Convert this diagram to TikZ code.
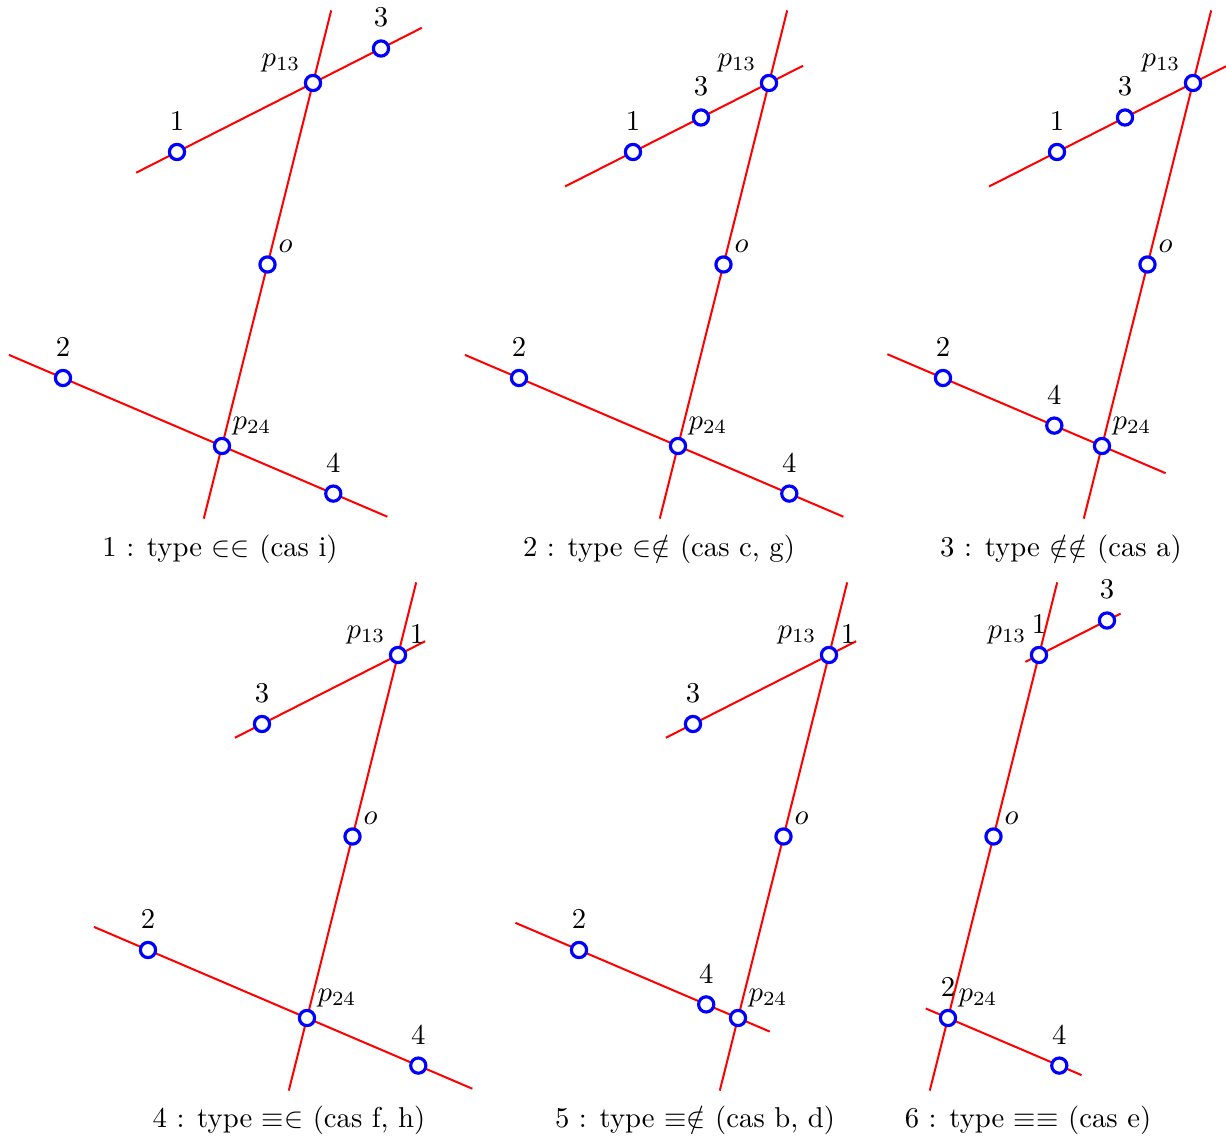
\documentclass[tikz,border=0pt]{standalone}
\usetikzlibrary{calc}
\begin{document}
\begin{tikzpicture}[x=0.3484pt,y=-0.3484pt,
  ln/.style={red, line width=0.7pt},
  pt/.style={circle, draw=blue, fill=white, line width=1.1pt, minimum size=5.3pt, inner sep=0pt},
  lb/.style={inner sep=0pt},
  captxt/.style={inner sep=0pt, anchor=base}]
\useasboundingbox (0,0) rectangle (1226,1139);
\coordinate (u) at (136,-69);
\coordinate (v) at (159,68);
\coordinate (d) at (45.5,-181.5);

% ---------------- Panel 1
\coordinate (oA) at (267.5,264.5);
\coordinate (pA) at ($(oA)+(d)$);
\coordinate (qA) at ($(oA)-(d)$);
\coordinate (tA) at ($(oA)+1.4*(d)$);
\coordinate (bA) at ($(oA)-1.4*(d)$);
\coordinate (uA1) at ($(pA)-1.3*(u)$);
\coordinate (uA2) at ($(pA)+0.8*(u)$);
\coordinate (vA1) at ($(qA)-1.34*(v)$);
\coordinate (vA2) at ($(qA)+1.04*(v)$);
\draw[ln] (tA) -- (bA);
\draw[ln] (uA1) -- (uA2);
\draw[ln] (vA1) -- (vA2);
\node[pt] (nOA) at (oA) {};
\node[pt] (nPA) at (pA) {};
\node[pt] (nQA) at (qA) {};
\node[pt] (n1A) at ($(pA)-(u)$) {};
\node[pt] (n3A) at ($(pA)+0.5*(u)$) {};
\node[pt] (n2A) at ($(qA)-(v)$) {};
\node[pt] (n4A) at ($(qA)+0.7*(v)$) {};
\node[lb] (lOA) at ($(nOA)+(18,-18)$) {$o$};
\node[lb] (lPA) at ($(nPA)+(-32,-20)$) {$p_{13}$};
\node[lb] (lQA) at ($(nQA)+(30,-20)$) {$p_{24}$};
\node[lb] (l1A) at ($(n1A)+(0,-31)$) {1};
\node[lb] (l2A) at ($(n2A)+(0,-31)$) {2};
\node[lb] (l3A) at ($(n3A)+(0,-31)$) {3};
\node[lb] (l4A) at ($(n4A)+(0,-31)$) {4};
\node[captxt] (cA) at (220,556) {1 : type $\in\in$ (cas i)};

% ---------------- Panel 2
\coordinate (oB) at (723.5,264.5);
\coordinate (pB) at ($(oB)+(d)$);
\coordinate (qB) at ($(oB)-(d)$);
\coordinate (tB) at ($(oB)+1.4*(d)$);
\coordinate (bB) at ($(oB)-1.4*(d)$);
\coordinate (uB1) at ($(pB)-1.5*(u)$);
\coordinate (uB2) at ($(pB)+0.25*(u)$);
\coordinate (vB1) at ($(qB)-1.34*(v)$);
\coordinate (vB2) at ($(qB)+1.04*(v)$);
\draw[ln] (tB) -- (bB);
\draw[ln] (uB1) -- (uB2);
\draw[ln] (vB1) -- (vB2);
\node[pt] (nOB) at (oB) {};
\node[pt] (nPB) at (pB) {};
\node[pt] (nQB) at (qB) {};
\node[pt] (n1B) at ($(pB)-(u)$) {};
\node[pt] (n3B) at ($(pB)-0.5*(u)$) {};
\node[pt] (n2B) at ($(qB)-(v)$) {};
\node[pt] (n4B) at ($(qB)+0.7*(v)$) {};
\node[lb] (lOB) at ($(nOB)+(18,-18)$) {$o$};
\node[lb] (lPB) at ($(nPB)+(-32,-20)$) {$p_{13}$};
\node[lb] (lQB) at ($(nQB)+(30,-20)$) {$p_{24}$};
\node[lb] (l1B) at ($(n1B)+(0,-31)$) {1};
\node[lb] (l2B) at ($(n2B)+(0,-31)$) {2};
\node[lb] (l3B) at ($(n3B)+(0,-31)$) {3};
\node[lb] (l4B) at ($(n4B)+(0,-31)$) {4};
\node[captxt] (cB) at (659,556) {2 : type $\in\notin$ (cas c, g)};

% ---------------- Panel 3
\coordinate (oC) at (1147.5,264.5);
\coordinate (pC) at ($(oC)+(d)$);
\coordinate (qC) at ($(oC)-(d)$);
\coordinate (tC) at ($(oC)+1.4*(d)$);
\coordinate (bC) at ($(oC)-1.4*(d)$);
\coordinate (uC1) at ($(pC)-1.5*(u)$);
\coordinate (uC2) at ($(pC)+0.25*(u)$);
\coordinate (vC1) at ($(qC)-1.35*(v)$);
\coordinate (vC2) at ($(qC)+0.4*(v)$);
\draw[ln] (tC) -- (bC);
\draw[ln] (uC1) -- (uC2);
\draw[ln] (vC1) -- (vC2);
\node[pt] (nOC) at (oC) {};
\node[pt] (nPC) at (pC) {};
\node[pt] (nQC) at (qC) {};
\node[pt] (n1C) at ($(pC)-(u)$) {};
\node[pt] (n3C) at ($(pC)-0.5*(u)$) {};
\node[pt] (n2C) at ($(qC)-(v)$) {};
\node[pt] (n4C) at ($(qC)-0.3*(v)$) {};
\node[lb] (lOC) at ($(nOC)+(18,-18)$) {$o$};
\node[lb] (lPC) at ($(nPC)+(-32,-20)$) {$p_{13}$};
\node[lb] (lQC) at ($(nQC)+(30,-20)$) {$p_{24}$};
\node[lb] (l1C) at ($(n1C)+(0,-31)$) {1};
\node[lb] (l2C) at ($(n2C)+(0,-31)$) {2};
\node[lb] (l3C) at ($(n3C)+(0,-31)$) {3};
\node[lb] (l4C) at ($(n4C)+(0,-31)$) {4};
\node[captxt] (cC) at (1061,556) {3 : type $\notin\notin$ (cas a)};

% ---------------- Panel 4
\coordinate (oD) at (352.5,836.5);
\coordinate (pD) at ($(oD)+(d)$);
\coordinate (qD) at ($(oD)-(d)$);
\coordinate (tD) at ($(oD)+1.4*(d)$);
\coordinate (bD) at ($(oD)-1.4*(d)$);
\coordinate (uD1) at ($(pD)-1.2*(u)$);
\coordinate (uD2) at ($(pD)+0.2*(u)$);
\coordinate (vD1) at ($(qD)-1.34*(v)$);
\coordinate (vD2) at ($(qD)+1.04*(v)$);
\draw[ln] (tD) -- (bD);
\draw[ln] (uD1) -- (uD2);
\draw[ln] (vD1) -- (vD2);
\node[pt] (nOD) at (oD) {};
\node[pt] (nPD) at (pD) {};
\node[pt] (nQD) at (qD) {};
\node[pt] (n3D) at ($(pD)-(u)$) {};
\node[pt] (n2D) at ($(qD)-(v)$) {};
\node[pt] (n4D) at ($(qD)+0.7*(v)$) {};
\node[lb] (lOD) at ($(nOD)+(18,-18)$) {$o$};
\node[lb] (lPD) at ($(nPD)+(-32,-20)$) {$p_{13}$};
\node[lb] (lQD) at ($(nQD)+(30,-20)$) {$p_{24}$};
\node[lb] (l1D) at ($(nPD)+(19,-21)$) {1};
\node[lb] (l2D) at ($(n2D)+(0,-31)$) {2};
\node[lb] (l3D) at ($(n3D)+(0,-31)$) {3};
\node[lb] (l4D) at ($(n4D)+(0,-31)$) {4};
\node[captxt] (cD) at (289,1127) {4 : type $\equiv\in$ (cas f, h)};

% ---------------- Panel 5
\coordinate (oE) at (783.5,836.5);
\coordinate (pE) at ($(oE)+(d)$);
\coordinate (qE) at ($(oE)-(d)$);
\coordinate (tE) at ($(oE)+1.4*(d)$);
\coordinate (bE) at ($(oE)-1.4*(d)$);
\coordinate (uE1) at ($(pE)-1.2*(u)$);
\coordinate (uE2) at ($(pE)+0.2*(u)$);
\coordinate (vE1) at ($(qE)-1.4*(v)$);
\coordinate (vE2) at ($(qE)+0.2*(v)$);
\draw[ln] (tE) -- (bE);
\draw[ln] (uE1) -- (uE2);
\draw[ln] (vE1) -- (vE2);
\node[pt] (nOE) at (oE) {};
\node[pt] (nPE) at (pE) {};
\node[pt] (nQE) at (qE) {};
\node[pt] (n3E) at ($(pE)-(u)$) {};
\node[pt] (n2E) at ($(qE)-(v)$) {};
\node[pt] (n4E) at ($(qE)-0.2*(v)$) {};
\node[lb] (lOE) at ($(nOE)+(18,-18)$) {$o$};
\node[lb] (lPE) at ($(nPE)+(-32,-20)$) {$p_{13}$};
\node[lb] (lQE) at ($(nQE)+(30,-20)$) {$p_{24}$};
\node[lb] (l1E) at ($(nPE)+(19,-21)$) {1};
\node[lb] (l2E) at ($(n2E)+(0,-31)$) {2};
\node[lb] (l3E) at ($(n3E)+(0,-31)$) {3};
\node[lb] (l4E) at ($(n4E)+(0,-31)$) {4};
\node[captxt] (cE) at (695,1127) {5 : type $\equiv\notin$ (cas b, d)};

% ---------------- Panel 6
\coordinate (oF) at (993.5,836.5);
\coordinate (pF) at ($(oF)+(d)$);
\coordinate (qF) at ($(oF)-(d)$);
\coordinate (tF) at ($(oF)+1.4*(d)$);
\coordinate (bF) at ($(oF)-1.4*(d)$);
\coordinate (uF1) at ($(pF)-0.1*(u)$);
\coordinate (uF2) at ($(pF)+0.6*(u)$);
\coordinate (vF1) at ($(qF)-0.14*(v)$);
\coordinate (vF2) at ($(qF)+0.84*(v)$);
\draw[ln] (tF) -- (bF);
\draw[ln] (uF1) -- (uF2);
\draw[ln] (vF1) -- (vF2);
\node[pt] (nOF) at (oF) {};
\node[pt] (nPF) at (pF) {};
\node[pt] (nQF) at (qF) {};
\node[pt] (n3F) at ($(pF)+0.5*(u)$) {};
\node[pt] (n4F) at ($(qF)+0.7*(v)$) {};
\node[lb] (lOF) at ($(nOF)+(18,-18)$) {$o$};
\node[lb] (lPF) at ($(nPF)+(-32,-20)$) {$p_{13}$};
\node[lb] (lQF) at ($(nQF)+(30,-20)$) {$p_{24}$};
\node[lb] (l1F) at ($(nPF)+(0,-31)$) {1};
\node[lb] (l2F) at ($(nQF)+(0,-31)$) {2};
\node[lb] (l3F) at ($(n3F)+(0,-31)$) {3};
\node[lb] (l4F) at ($(n4F)+(0,-31)$) {4};
\node[captxt] (cF) at (1028,1127) {6 : type $\equiv\equiv$ (cas e)};
\end{tikzpicture}
\end{document}
